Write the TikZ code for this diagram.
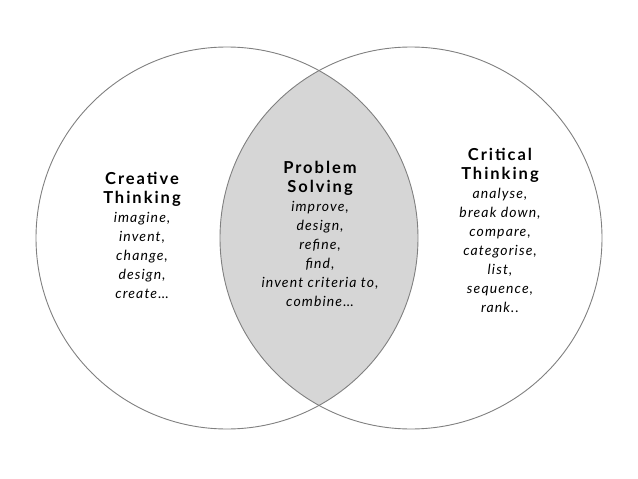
\documentclass[tikz,border=0pt]{standalone}
\usepackage{fontspec}
\setmainfont{Lato}
\newcommand\ttl[1]{{\fontsize{16.5}{19}\selectfont\bfseries\upshape\addfontfeature{LetterSpace=12}#1}}
\begin{document}
\begin{tikzpicture}[x=1pt,y=-1pt,
 ring/.style={draw=black!50, line width=0.9pt},
 block/.style={align=center, inner sep=0pt, anchor=north, font=\fontsize{14}{19}\selectfont\itshape\addfontfeature{LetterSpace=8}}]
\useasboundingbox[fill=white] (0,0) rectangle (638,479);
\coordinate (cl) at (227,238);
\coordinate (cr) at (411,238);
\begin{scope}
\clip (cl) circle (191);
\fill[black!16] (cr) circle (191);
\end{scope}
\draw[ring] (cl) circle (191);
\draw[ring] (cr) circle (191);
\node[block] (creative) at (142,172) {\ttl{Creative}\\\ttl{Thinking}\\imagine,\\invent,\\change,\\design,\\create\ldots};
\node[block] (problem) at (320,161) {\ttl{Problem}\\\ttl{Solving}\\improve,\\design,\\refine,\\find,\\invent criteria to,\\combine\ldots};
\node[block] (critical) at (500,148) {\ttl{Critical}\\\ttl{Thinking}\\analyse,\\break down,\\compare,\\categorise,\\list,\\sequence,\\rank..};
\end{tikzpicture}
\end{document}
